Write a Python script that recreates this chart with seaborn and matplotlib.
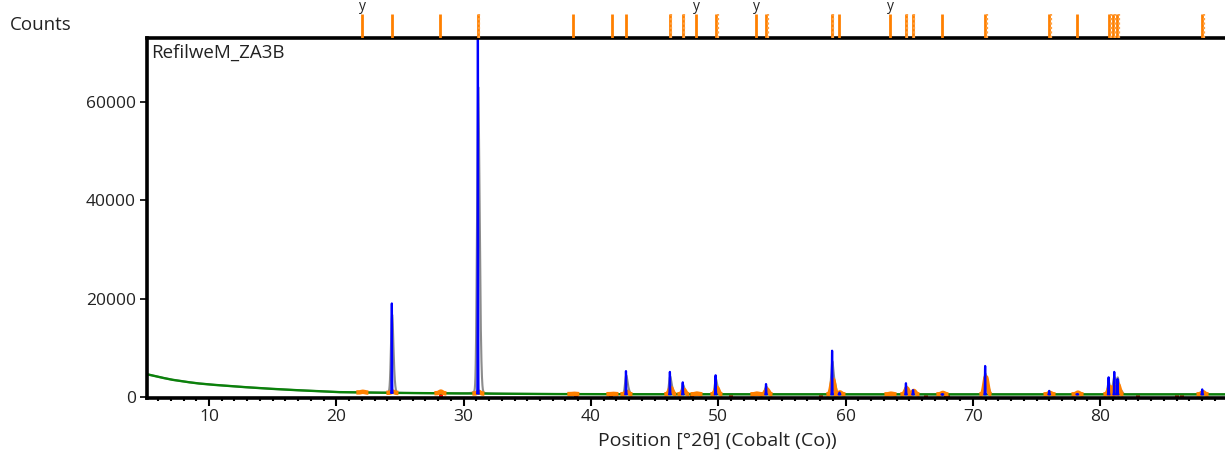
import numpy as np
import pandas as pd
import matplotlib
matplotlib.use("Agg")
import matplotlib.pyplot as plt
import seaborn as sns

# ---------------- data ----------------
# background (green) level, counts at given 2theta
bg_pos = [5, 6, 7, 8, 9, 10, 12, 14, 16, 18, 20, 23, 26, 30, 35, 40, 50, 60, 70, 80, 90]
bg_counts = [4700, 4100, 3550, 3150, 2800, 2550, 2150, 1800, 1500, 1250, 1000,
             880, 800, 720, 620, 570, 550, 540, 540, 540, 540]

# measured peaks (blue sticks / gray profile): position and peak counts
peak_pos = [24.36, 31.12, 42.75, 46.20, 47.21, 49.79, 53.75, 58.94, 59.52, 64.74,
            65.30, 67.60, 70.96, 75.99, 78.20, 80.66, 81.10, 81.36, 88.01]
peak_counts = [19000, 74000, 5300, 5100, 3000, 4450, 2650, 9400, 900, 2800,
               1400, 450, 6300, 1250, 600, 4000, 5100, 3650, 1550]

# reference pattern lines (orange, top strip) and their profile height above background
ref_pos = [22.02, 24.38, 28.15, 31.13, 38.59, 41.66, 42.76, 46.21, 47.23, 48.26,
           49.83, 52.97, 53.76, 58.94, 59.49, 63.50, 64.75, 65.30, 67.58, 70.96,
           75.99, 78.19, 80.70, 81.02, 81.33, 88.01]
ref_profile = [150, 250, 350, 350, 80, 80, 500, 1300, 900, 150,
               1300, 150, 1000, 3000, 400, 150, 1200, 700, 300, 3500,
               300, 350, 1500, 1500, 2000, 450]
ref_doublet = [31.13, 46.21, 47.23, 49.83, 53.76, 58.94, 64.75, 65.30, 70.96,
               75.99, 80.70, 81.02, 81.33, 88.01]
ref_marked = [22.02, 48.26, 52.97, 63.50]

# red residual markers
red_pos = [28.2, 38.8, 41.6, 47.9, 51.0, 58.1, 66.3, 67.9, 68.05, 83.0, 86.0, 86.4]
red_counts = [250, 250, 250, 250, 250, 250, 250, 250, 250, 250, 250, 250]

x_ticks = [10, 20, 30, 40, 50, 60, 70, 80]
y_ticks = [0, 20000, 40000, 60000]
sample_name = "RefilweM_ZA3B"

# ---------------- profiles ----------------
x = np.arange(5.0, 90.0, 0.004)
bg = np.interp(x, bg_pos, bg_counts)

gray = bg.copy()
for c, h in zip(peak_pos, peak_counts):
    amp = h - np.interp(c, bg_pos, bg_counts)
    d2 = np.degrees(2 * np.tan(np.radians(c / 2)) * 0.00217)
    gray += amp * (0.7 * np.exp(-0.5 * ((x - c - 0.01) / 0.085) ** 2)
                   + 0.25 * np.exp(-0.5 * ((x - c - d2 - 0.06) / 0.1) ** 2)
                   + 0.015 / (1 + ((x - c) / 0.2) ** 2))

df = pd.DataFrame({"x": x, "bg": bg, "gray": gray})

# ---------------- figure ----------------
sns.set_theme(style="ticks")
plt.rcParams["font.family"] = ["Open Sans", "DejaVu Sans"]

fig = plt.figure(figsize=(12.25, 4.61), dpi=100)
ax = fig.add_axes([147 / 1225, 1 - 398 / 461, 1 - 147 / 1225, 360 / 461])

sns.lineplot(data=df, x="x", y="gray", ax=ax, color="#8c8c8c", lw=1.5,
             estimator=None, sort=False)
sns.lineplot(data=df, x="x", y="bg", ax=ax, color="#0a820a", lw=1.7,
             estimator=None, sort=False)
for p, oh in zip(ref_pos, ref_profile):
    xs = x[(x > p - 0.45) & (x < p + 0.5)]
    ys = np.interp(xs, bg_pos, bg_counts) + oh * np.exp(-0.5 * ((xs - p - 0.06) / 0.12) ** 2)
    sns.lineplot(x=xs, y=ys, ax=ax, color="#ff8000", lw=3.2, estimator=None,
                 sort=False, solid_capstyle="butt")
for c, h in zip(peak_pos, peak_counts):
    xs = x[(x > c - 0.07) & (x < c + 0.07)]
    b0 = np.interp(c, bg_pos, bg_counts)
    ys = np.interp(xs, bg_pos, bg_counts) + (h - b0) * np.exp(-0.5 * ((xs - c) / 0.015) ** 2)
    sns.lineplot(x=xs, y=ys, ax=ax, color="#0000ff", lw=1.6, estimator=None,
                 sort=False)
sns.scatterplot(x=red_pos, y=red_counts, ax=ax, color="#ff0000", marker="s",
                s=6, linewidth=0)

ax.set_xlim(5.13, 89.8)
ax.set_ylim(-200, 72900)
ax.set_xticks(x_ticks)
ax.set_xticks(np.arange(6, 90, 1), minor=True)
ax.set_yticks(y_ticks)
ax.set_xlabel("")
ax.set_ylabel("")
for s in ["top", "left", "bottom"]:
    ax.spines[s].set_linewidth(2.6)
    ax.spines[s].set_color("black")
ax.spines["right"].set_visible(False)
ax.tick_params(axis="x", which="major", direction="out", length=6, width=1.5,
               labelsize=12.5, pad=2, colors="black")
ax.tick_params(axis="x", which="minor", direction="out", length=2.5, width=1.5,
               colors="black")
ax.tick_params(axis="y", which="major", direction="out", length=5, width=1.2,
               labelsize=12.5, pad=3, colors="black")
for lab in ax.get_xticklabels() + ax.get_yticklabels():
    lab.set_color("#222222")

ax.text(0.004, 0.985, sample_name, transform=ax.transAxes, ha="left", va="top",
        fontsize=13.5, color="#222222")

# top strip with reference lines
ax_top = fig.add_axes([147 / 1225, 1 - 38 / 461, 1 - 147 / 1225, 38 / 461], sharex=ax)
ax_top.set_ylim(0, 1)
ax_top.axis("off")
ax_top.vlines(ref_pos, 0, 0.64, color="#ff8000", lw=2)
ax_top.vlines(np.array(ref_doublet) + 0.11, 0, 0.64, color="#ffa040", lw=1.6,
              linestyles=(0, (1, 1)))
for p in ref_marked:
    ax_top.text(p, 0.62, "y", ha="center", va="bottom", fontsize=10, color="#222222")
ax.set_xlim(5.13, 89.8)

fig.text(10 / 1225, 1 - 25 / 461, "Counts", ha="left", va="center", fontsize=13.5,
         color="#222222")
fig.text(717 / 1225, 1 - 441 / 461, "Position [°2θ] (Cobalt (Co))", ha="center",
         va="center", fontsize=14, color="#222222")

fig.savefig("out.png", dpi=100)
